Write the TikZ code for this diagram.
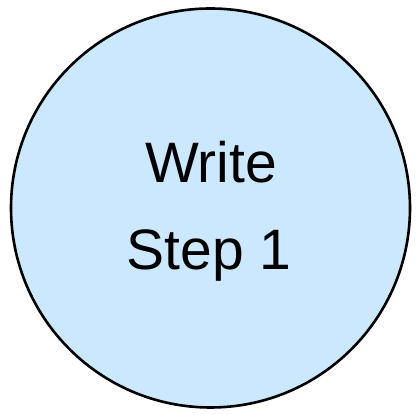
\documentclass[tikz,border=0pt]{standalone}
\usepackage{fontspec}
\setmainfont{Liberation Sans}
\definecolor{circfill}{RGB}{204,232,255}
\begin{document}
\begin{tikzpicture}[x=1pt,y=1pt,
  circ/.style={circle,draw=black,line width=2.6pt,fill=circfill,minimum size=399pt,inner sep=0pt},
  lbl/.style={anchor=base,inner sep=0pt,font=\fontsize{57}{68}\selectfont}]
\useasboundingbox (0,0) rectangle (416,415);
\node[circ] (c) at (210.5,207) {};
\node[lbl] (write) at (211,232) {Write};
\node[lbl] (step) at (209,145) {Step 1};
\end{tikzpicture}
\end{document}
